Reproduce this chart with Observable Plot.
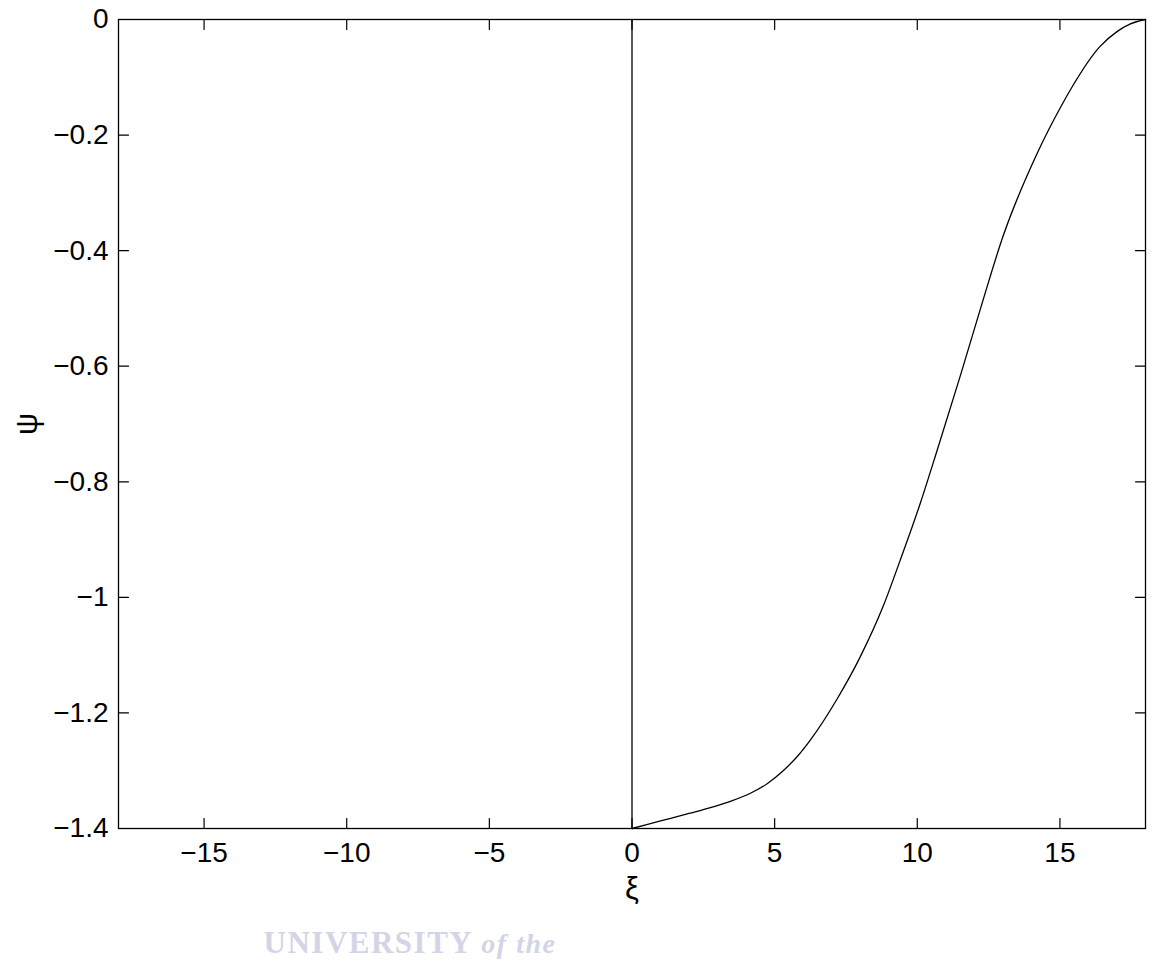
<!DOCTYPE html>
<html>
<head>
<meta charset="utf-8">
<script src="https://cdn.jsdelivr.net/npm/d3@7"></script>
<script src="https://cdn.jsdelivr.net/npm/@observablehq/plot@0.6"></script>
<style>
  html, body { margin: 0; padding: 0; background: #fff; }
  #wrap { position: relative; width: 1159px; height: 972px; }
  #wm { position: absolute; left: 258px; top: 925px; width: 304px; text-align: center;
        font-family: "Liberation Serif", "DejaVu Serif", serif; font-weight: bold; font-size: 31px;
        color: #d3d5e6; letter-spacing: 1.5px; white-space: nowrap; }
  #wm i { font-weight: bold; font-size: 28px; }
</style>
</head>
<body>
<div id="wrap"><div id="wm">UNIVERSITY <i>of the</i></div></div>
<script>
// Curve psi(xi)
const xi  = [0, 1.0, 2.0, 2.75, 3.45, 4.15, 4.75, 5.3, 5.8, 6.25, 7.2, 8.0, 8.8, 9.4, 10.1, 10.7, 11.5, 12.2, 13.0, 14.2, 15.1, 15.4, 16.4, 17.0, 17.45, 18];
const psi = [-1.4, -1.387, -1.374, -1.364, -1.353, -1.339, -1.322, -1.300, -1.275, -1.247, -1.175, -1.103, -1.016, -0.936, -0.838, -0.745, -0.618, -0.503, -0.376, -0.232, -0.145, -0.119, -0.047, -0.021, -0.008, 0];
// Vertical segment at xi = 0
const vxi  = [0, 0];
const vpsi = [-1.4, 0];

const xTicks = [-15, -10, -5, 0, 5, 10, 15];
const yTicks = [0, -0.2, -0.4, -0.6, -0.8, -1, -1.2, -1.4];
const xDomain = [-18, 18];
const yDomain = [-1.4, 0];

const curve = xi.map((x, i) => ({x, y: psi[i]}));
const vline = vxi.map((x, i) => ({x, y: vpsi[i]}));
const fmt = d => (d < 0 ? "\u2212" : "") + String(Math.abs(d));
const tickShape = {draw(context, l) { context.moveTo(0, 0); context.lineTo(0, -l); }};

const chart = Plot.plot({
  width: 1159,
  height: 972,
  marginLeft: 118,
  marginRight: 14,
  marginTop: 19,
  marginBottom: 144,
  style: {fontFamily: "'Liberation Sans', Arial, Helvetica, sans-serif", fontSize: "28px", color: "#000", background: "transparent"},
  x: {domain: xDomain},
  y: {domain: yDomain},
  marks: [
    Plot.frame({stroke: "#000", strokeWidth: 1.3}),
    Plot.axisX(xTicks, {anchor: "bottom", tickSize: 0, tickPadding: 14, tickFormat: fmt, fontSize: 28,
      label: null}),
    Plot.axisX({anchor: "bottom", ticks: [], label: "\u03BE", labelAnchor: "center", labelArrow: "none", labelOffset: 70, fontSize: 31}),
    Plot.axisY(yTicks, {anchor: "left", tickSize: 0, tickPadding: 10, tickFormat: fmt, fontSize: 28,
      label: null}),
    Plot.axisY({anchor: "left", ticks: [], label: "\u03C8", labelAnchor: "center", labelArrow: "none", labelOffset: 104, fontSize: 31}),
    // inward ticks on all four sides
    Plot.vector(xTicks, {x: d => d, y: yDomain[0], length: 10, rotate: 0, anchor: "start", shape: tickShape, stroke: "#000", strokeWidth: 1.2}),
    Plot.vector(xTicks, {x: d => d, y: yDomain[1], length: 10, rotate: 180, anchor: "start", shape: tickShape, stroke: "#000", strokeWidth: 1.2}),
    Plot.vector(yTicks, {y: d => d, x: xDomain[0], length: 10, rotate: 90, anchor: "start", shape: tickShape, stroke: "#000", strokeWidth: 1.2}),
    Plot.vector(yTicks, {y: d => d, x: xDomain[1], length: 10, rotate: 270, anchor: "start", shape: tickShape, stroke: "#000", strokeWidth: 1.2}),
    Plot.line(vline, {x: "x", y: "y", stroke: "#000", strokeWidth: 1.3}),
    Plot.line(curve, {x: "x", y: "y", stroke: "#000", strokeWidth: 1.3, curve: "monotone-x"})
  ]
});
const wrap = document.getElementById("wrap");
wrap.insertBefore(chart, wrap.firstChild);
chart.style.position = "absolute";
chart.style.left = "0";
chart.style.top = "0";
</script>
</body>
</html>
